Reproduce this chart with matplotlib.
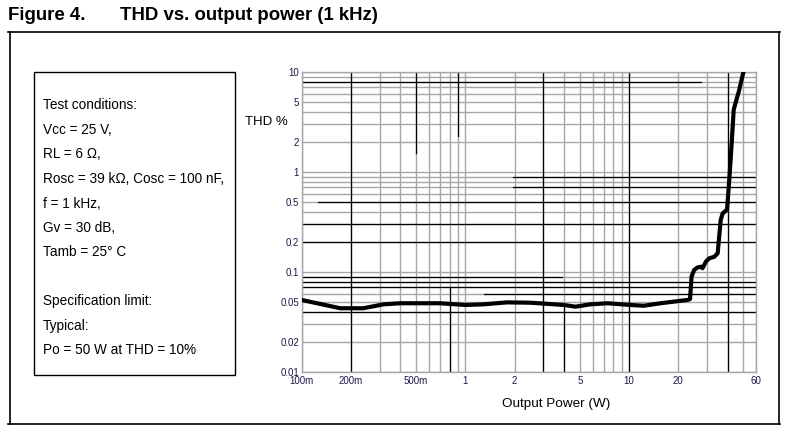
import numpy as np
import matplotlib
matplotlib.use('Agg')
import matplotlib.pyplot as plt
from matplotlib.patches import Rectangle
from matplotlib.lines import Line2D

plt.rcParams['font.family'] = ['Liberation Sans', 'DejaVu Sans']

# THD curve
power = [0.1, 0.124, 0.172, 0.238, 0.316, 0.4, 0.7, 1.0, 1.29, 1.8, 2.5, 4.0, 4.7,
         5.8, 7.4, 10.2, 12.3, 15.6, 19.6, 22.8, 23.6, 24.1, 25.0, 26.2, 27.5, 28.1,
         29.5, 30.9, 33.2, 34.8, 36.3, 37.3, 39.7, 41.1, 42.5, 43.6, 47.1, 50.0]
thd = [0.0525, 0.0487, 0.0434, 0.0434, 0.0475, 0.0487, 0.0487, 0.0468, 0.0475, 0.0497,
       0.0493, 0.0468, 0.045, 0.0475, 0.0487, 0.0468, 0.046, 0.0487, 0.051, 0.0525,
       0.0537, 0.090, 0.105, 0.111, 0.113, 0.109, 0.127, 0.137, 0.142, 0.154, 0.33,
       0.385, 0.42, 0.9, 2.09, 4.2, 6.6, 10.0]

xticks = [0.1, 0.2, 0.5, 1, 2, 5, 10, 20, 60]
xticklabels = ['100m', '200m', '500m', '1', '2', '5', '10', '20', '60']
yticks = [0.01, 0.02, 0.05, 0.1, 0.2, 0.5, 1, 2, 5, 10]
yticklabels = ['0.01', '0.02', '0.05', '0.1', '0.2', '0.5', '1', '2', '5', '10']

conditions = ['Test conditions:', 'Vcc = 25 V,', 'RL = 6 \u03a9,',
              'Rosc = 39 k\u03a9, Cosc = 100 nF,', 'f = 1 kHz,', 'Gv = 30 dB,',
              'Tamb = 25\u00b0 C', '', 'Specification limit:', 'Typical:',
              'Po = 50 W at THD = 10%']

W, H = 789, 434
fig = plt.figure(figsize=(W/100, H/100), dpi=100)

# page frame and title
fig.text(8/W, 1-16/H, 'Figure 4.', fontsize=13.4, fontweight='bold', va='center')
fig.text(120/W, 1-16/H, 'THD vs. output power (1 kHz)', fontsize=13.4, fontweight='bold', va='center')
fig.add_artist(Line2D([8/W, 780/W], [1-31.5/H, 1-31.5/H], color='k', lw=1.2))
fig.add_artist(Line2D([9.5/W, 9.5/W], [1-31.5/H, 1-423.5/H], color='k', lw=1.2))
fig.add_artist(Line2D([779/W, 779/W], [1-31.5/H, 1-423.5/H], color='k', lw=1.2))
fig.add_artist(Line2D([8/W, 780/W], [1-423.5/H, 1-423.5/H], color='k', lw=1.2))

# conditions box
fig.add_artist(Rectangle((34/W, 1-375/H), 201/W, 303/H, fill=False, ec='k', lw=1.0))
ys = [105, 130, 154.5, 179, 203.5, 228, 252.5, 277, 301.5, 326, 350.5]
for t, yy in zip(conditions, ys):
    fig.text(43/W, 1-yy/H, t, fontsize=9.8, va='center')

# graph
x0, x1, y0, y1 = 301.7, 756.4, 372, 72
ax = fig.add_axes([x0/W, 1-y0/H, (x1-x0)/W, (y0-y1)/H])
ax.set_xscale('log')
ax.set_yscale('log')
ax.set_xlim(0.1, 60)
ax.set_ylim(0.01, 10)

gray = '#a6a6a6'
for d in [0.1, 1, 10]:
    for m in range(1, 10):
        v = d*m
        if 0.1 <= v <= 60:
            ax.axvline(v, color=gray, lw=1.0, zorder=1)
for d in [0.01, 0.1, 1]:
    for m in range(1, 10):
        ax.axhline(d*m, color=gray, lw=1.0, zorder=1)
ax.axhline(10, color=gray, lw=1.0, zorder=1)

def fx(v):
    return np.log10(v/0.1)/np.log10(600)

def fy(v):
    return np.log10(v/0.01)/3

# darker grid lines (partial as in the scan)
blk = dict(color='k', lw=0.9, zorder=2)
ax.axvline(0.2, **blk)
ax.axvline(0.5, ymin=fy(1.55), **blk)
ax.axvline(0.8, ymax=fy(0.07), **blk)
ax.axvline(0.9, ymin=fy(2.3), **blk)
ax.axvline(3, **blk)
ax.axvline(4, ymax=fy(0.045), **blk)
ax.axvline(10, **blk)
ax.axvline(40, **blk)
ax.axhline(8, xmax=fx(27.5), **blk)
ax.axhline(0.9, xmin=fx(1.95), **blk)
ax.axhline(0.7, xmin=fx(1.95), **blk)
ax.axhline(0.5, xmin=fx(0.125), **blk)
ax.axhline(0.3, **blk)
ax.axhline(0.2, **blk)
ax.axhline(0.09, xmax=fx(3.9), **blk)
ax.axhline(0.08, **blk)
ax.axhline(0.07, **blk)
ax.axhline(0.06, xmin=fx(1.3), **blk)
ax.axhline(0.04, **blk)

ax.plot(power, thd, color='k', lw=3.0, solid_joinstyle='round', solid_capstyle='round', zorder=3)

for s in ax.spines.values():
    s.set_color(gray)
    s.set_linewidth(1.0)

ax.set_xticks(xticks)
ax.set_xticklabels(xticklabels)
ax.set_yticks(yticks)
ax.set_yticklabels(yticklabels)
ax.minorticks_off()
ax.tick_params(axis='both', length=0, labelsize=7, colors='#1a1a4a')
ax.tick_params(axis='x', pad=3)
ax.tick_params(axis='y', pad=2)

fig.text(266/W, 1-122/H, 'THD %', fontsize=9.5, ha='center', va='center')
fig.text(556/W, 1-404/H, 'Output Power (W)', fontsize=9.7, ha='center', va='center')

fig.savefig('out.png', dpi=100)
